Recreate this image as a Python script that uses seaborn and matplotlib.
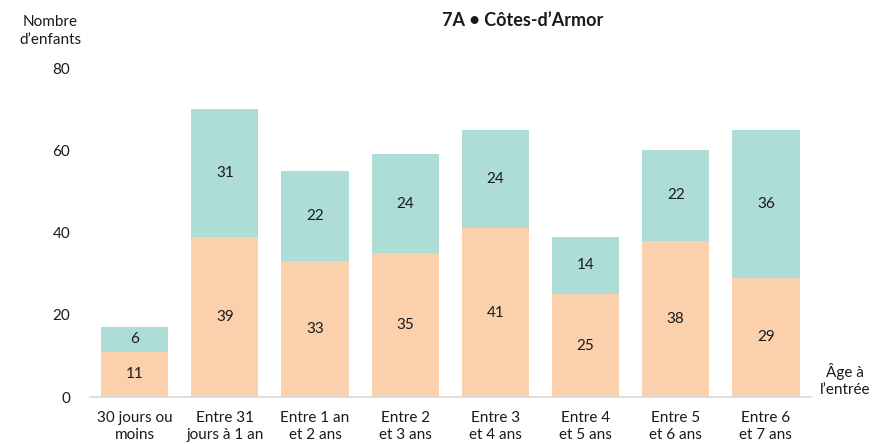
import pandas as pd
import numpy as np
import matplotlib.pyplot as plt
import seaborn as sns

# Data
categories = ['30 jours ou\nmoins', 'Entre 31\njours à 1 an', 'Entre 1 an\net 2 ans',
              'Entre 2\net 3 ans', 'Entre 3\net 4 ans', 'Entre 4\net 5 ans',
              'Entre 5\net 6 ans', 'Entre 6\net 7 ans']
bas = [11, 39, 33, 35, 41, 25, 38, 29]
haut = [6, 31, 22, 24, 24, 14, 22, 36]

col_bas = '#FBD0AD'
col_haut = '#AEDCD6'

sns.set_theme(style='white')
plt.rcParams['font.family'] = ['Lato', 'DejaVu Sans']

df = pd.DataFrame({'cat': categories, 'bas': bas, 'haut': haut})
df['total'] = df['bas'] + df['haut']

fig = plt.figure(figsize=(8.72, 4.44), dpi=100)
ax = fig.add_axes([89.5 / 872, 47 / 444, (811 - 89.5) / 872, 329 / 444])

# stacked bars: total in teal, bottom part drawn over it
sns.barplot(data=df, x='cat', y='total', color=col_haut, saturation=1, width=0.745,
            linewidth=0, edgecolor='none', ax=ax)
sns.barplot(data=df, x='cat', y='bas', color=col_bas, saturation=1, width=0.745,
            linewidth=0, edgecolor='none', ax=ax)

for i in range(len(categories)):
    ax.text(i, bas[i] / 2, str(bas[i]), ha='center', va='center', fontsize=11, color='#1a1a1a')
    ax.text(i, bas[i] + haut[i] / 2, str(haut[i]), ha='center', va='center', fontsize=11, color='#1a1a1a')

ax.set_xlim(-0.5, len(categories) - 0.5)
ax.set_ylim(0, 80)
ax.set_yticks([0, 20, 40, 60, 80])
ax.set_xlabel('')
ax.set_ylabel('')
ax.tick_params(axis='y', labelsize=11, labelcolor='#1a1a1a', pad=14, length=0)
ax.tick_params(axis='x', labelsize=11, labelcolor='#1a1a1a', pad=10, length=0)
for lab in ax.get_xticklabels():
    lab.set_linespacing(1.3)

sns.despine(ax=ax, left=True, top=True, right=True)
ax.spines['bottom'].set_color('#D9D9D9')
ax.spines['bottom'].set_linewidth(1.2)

fig.text(523 / 872, 1 - 20 / 444, '7A • Côtes-d\u2019Armor', ha='center', va='center',
         fontsize=13, fontweight='bold', color='#1a1a1a')
fig.text(50 / 872, 1 - 31 / 444, 'Nombre\nd\u2019enfants', ha='center', va='center',
         fontsize=11, color='#1a1a1a', linespacing=1.4)
fig.text(845 / 872, 1 - 380 / 444, 'Âge à\nl\u2019entrée', ha='center', va='center',
         fontsize=11, color='#1a1a1a', linespacing=1.3)

fig.savefig('out.png', dpi=100)
